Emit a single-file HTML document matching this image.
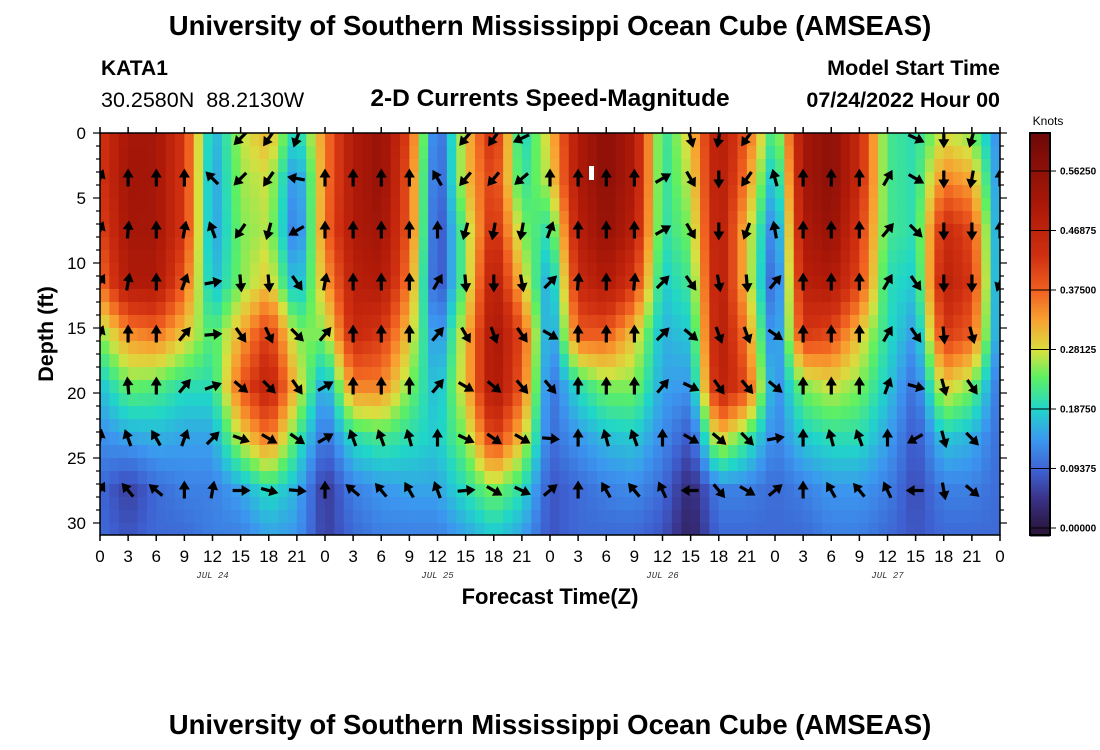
<!DOCTYPE html>
<html><head><meta charset="utf-8"><style>
html,body{margin:0;padding:0;background:#fff;}
svg{display:block;font-family:"Liberation Sans",sans-serif;}
</style></head><body>
<svg id="chart" width="1100" height="750" viewBox="0 0 1100 750">
<defs><clipPath id="plotclip"><rect x="100" y="133" width="900" height="402"/></clipPath></defs>
<text x="550" y="35" text-anchor="middle" font-size="27.5" font-weight="bold">University of Southern Mississippi Ocean Cube (AMSEAS)</text>
<text x="101" y="75" font-size="21" font-weight="bold">KATA1</text>
<text x="101" y="107" font-size="21.5" xml:space="preserve" style="white-space:pre">30.2580N  88.2130W</text>
<text x="550" y="106" text-anchor="middle" font-size="24.5" font-weight="bold">2-D Currents Speed-Magnitude</text>
<text x="1000" y="75" text-anchor="end" font-size="21.5" font-weight="bold">Model Start Time</text>
<text x="1000" y="107" text-anchor="end" font-size="21.5" font-weight="bold">07/24/2022 Hour 00</text>
<g id="heat" clip-path="url(#plotclip)"></g>
<g id="arrows" clip-path="url(#plotclip)"></g>
<rect x="589" y="166" width="5" height="14" fill="#fff"/>
<rect x="100" y="133" width="900" height="402" fill="none" stroke="#000" stroke-width="1.5"/>
<g id="axes"></g>
<text transform="translate(53,334) rotate(-90)" text-anchor="middle" font-size="21.5" font-weight="bold">Depth (ft)</text>
<text x="550" y="604" text-anchor="middle" font-size="22" font-weight="bold">Forecast Time(Z)</text>
<text x="550" y="734" text-anchor="middle" font-size="27.5" font-weight="bold">University of Southern Mississippi Ocean Cube (AMSEAS)</text>
<g id="cbar"></g>
<text x="1048" y="125" text-anchor="middle" font-size="12">Knots</text>
</svg>
<script>
const hours = [0,3,6,9,12,15,18,21,24,27,30,33,36,39,42,45,48,51,54,57,60,63,66,69,72,75,78,81,84,87,90,93,96];
const depths = [0,3.5,7.5,11.5,15.5,19.5,23.5,27.5,31];
const arrowDepths = [0.4,3.5,7.5,11.5,15.5,19.5,23.5,27.5];
// speed (knots) per hour column, values at each depth in `depths`
const speed = [
[0.42,0.42,0.40,0.36,0.25,0.17,0.13,0.10,0.10],
[0.52,0.53,0.52,0.50,0.34,0.24,0.15,0.06,0.08],
[0.52,0.52,0.52,0.50,0.36,0.23,0.16,0.10,0.10],
[0.42,0.42,0.42,0.38,0.30,0.20,0.15,0.12,0.10],
[0.15,0.14,0.14,0.16,0.22,0.20,0.15,0.12,0.12],
[0.27,0.26,0.25,0.25,0.32,0.38,0.28,0.15,0.12],
[0.32,0.28,0.27,0.30,0.42,0.48,0.36,0.20,0.15],
[0.18,0.12,0.10,0.15,0.25,0.30,0.22,0.16,0.14],
[0.35,0.35,0.36,0.32,0.25,0.14,0.10,0.05,0.06],
[0.50,0.50,0.50,0.48,0.45,0.35,0.20,0.12,0.10],
[0.55,0.55,0.53,0.50,0.42,0.35,0.22,0.14,0.12],
[0.40,0.38,0.38,0.35,0.30,0.25,0.20,0.15,0.12],
[0.08,0.07,0.06,0.06,0.12,0.16,0.18,0.15,0.12],
[0.30,0.30,0.25,0.25,0.30,0.30,0.25,0.20,0.15],
[0.45,0.42,0.45,0.50,0.52,0.52,0.42,0.25,0.18],
[0.18,0.20,0.25,0.30,0.40,0.38,0.30,0.20,0.15],
[0.30,0.28,0.20,0.14,0.12,0.10,0.10,0.08,0.08],
[0.50,0.50,0.48,0.45,0.38,0.20,0.14,0.10,0.10],
[0.57,0.57,0.55,0.50,0.38,0.25,0.17,0.12,0.10],
[0.50,0.50,0.48,0.42,0.30,0.25,0.18,0.13,0.10],
[0.20,0.20,0.20,0.18,0.16,0.15,0.13,0.10,0.08],
[0.30,0.28,0.25,0.22,0.18,0.14,0.08,0.03,0.02],
[0.50,0.50,0.50,0.50,0.50,0.48,0.30,0.12,0.10],
[0.38,0.35,0.30,0.30,0.35,0.40,0.22,0.12,0.10],
[0.20,0.15,0.10,0.07,0.10,0.12,0.12,0.10,0.10],
[0.52,0.52,0.50,0.48,0.42,0.25,0.18,0.12,0.10],
[0.57,0.57,0.55,0.50,0.40,0.28,0.20,0.14,0.12],
[0.45,0.45,0.42,0.40,0.30,0.25,0.20,0.14,0.12],
[0.22,0.22,0.22,0.20,0.20,0.18,0.15,0.12,0.10],
[0.20,0.20,0.20,0.18,0.14,0.10,0.08,0.07,0.08],
[0.28,0.35,0.45,0.48,0.42,0.30,0.18,0.12,0.10],
[0.25,0.32,0.40,0.42,0.38,0.25,0.16,0.12,0.10],
[0.12,0.12,0.12,0.12,0.12,0.10,0.10,0.10,0.10]
];
// arrow direction (degrees clockwise from north) per arrow row, per hour column; null = no arrow
const dirTop = [null,null,null,null,null,225,215,200,null,null,null,null,null,220,215,245,null,null,null,null,null,165,190,215,null,null,null,null,null,115,180,195,null];
const dir3 = [20,0,0,0,315,225,215,280,0,0,0,0,330,220,220,230,0,0,0,0,60,150,180,215,345,0,0,0,30,120,180,190,0];
const dir7 = [20,5,0,10,340,215,195,240,0,0,0,0,0,195,190,190,20,0,0,0,60,150,180,200,350,0,0,0,40,135,180,180,0];
const dir11 = [30,10,0,20,80,175,175,145,10,0,0,0,30,175,180,170,45,5,0,5,45,145,170,175,40,0,0,0,30,145,180,180,200];
const dir15 = [20,0,0,40,85,145,155,135,40,0,0,0,40,150,160,145,120,0,0,0,45,130,160,160,125,0,0,0,30,145,175,165,null];
const dir19 = [null,355,0,40,70,130,135,145,60,0,0,0,40,120,130,140,140,0,0,0,40,115,145,140,130,0,0,0,20,105,165,145,null];
const dir23 = [10,340,330,20,45,110,120,125,60,340,340,345,0,115,125,120,95,0,345,340,0,120,130,135,80,0,345,340,0,240,165,135,null];
const dir27 = [30,320,310,0,10,90,105,95,0,310,320,330,340,85,120,115,50,0,330,320,335,270,140,120,50,0,330,320,335,270,170,130,null];
const arrowRows = [dirTop,dir3,dir7,dir11,dir15,dir19,dir23,dir27];
const hourLabels = ["0","3","6","9","12","15","18","21"];
const dayLabels = ["JUL 24","JUL 25","JUL 26","JUL 27"];
const depthTicks = [0,5,10,15,20,25,30];
const cbarTicks = [0,0.09375,0.1875,0.28125,0.375,0.46875,0.5625];
const cbarLabels = ["0.00000","0.09375","0.18750","0.28125","0.37500","0.46875","0.56250"];

const NS="http://www.w3.org/2000/svg";
const X0=100,X1=1000,Y0=133,Y1=535;
const xs = h => X0 + (h/96)*(X1-X0);
const ys = d => Y0 + d*13;
const cs = v => 528 - v/0.09375*59.5;
const stops=[[0,[42,22,62]],[0.05,[58,52,140]],[0.09,[62,95,208]],[0.14,[60,150,240]],[0.19,[32,214,200]],[0.24,[96,240,96]],[0.28,[216,224,64]],[0.33,[248,160,48]],[0.375,[240,96,32]],[0.43,[208,48,16]],[0.5,[176,26,8]],[0.62,[112,8,8]]];
function color(v){
  if(v<=stops[0][0]) return `rgb(${stops[0][1]})`;
  for(let i=1;i<stops.length;i++){
    if(v<=stops[i][0]){const a=stops[i-1],b=stops[i];const t=(v-a[0])/(b[0]-a[0]);
      const c=a[1].map((q,k)=>Math.round(q+(b[1][k]-q)*t));return `rgb(${c})`;}
  }
  return `rgb(${stops[stops.length-1][1]})`;
}
function mk(tag,attrs,parent){const e=document.createElementNS(NS,tag);for(const k in attrs)e.setAttribute(k,attrs[k]);parent.appendChild(e);return e;}
function sample(h,d){
  let i=Math.min(hours.length-2,Math.floor(h/3));let tx=(h-hours[i])/3;
  let j=0;while(j<depths.length-2&&d>depths[j+1])j++;
  let ty=Math.max(0,Math.min(1,(d-depths[j])/(depths[j+1]-depths[j])));
  const a=speed[i][j],b=speed[i+1][j],c=speed[i][j+1],e=speed[i+1][j+1];
  return (a*(1-tx)+b*tx)*(1-ty)+(c*(1-tx)+e*tx)*ty;
}
const heat=document.getElementById('heat');
for(let h=0;h<96;h++){for(let d=0;d<31;d++){
  const r=mk('rect',{x:xs(h).toFixed(2),y:ys(d),width:(xs(h+1)-xs(h)+0.6).toFixed(2),height:13.6,fill:color(sample(h+0.5,d+0.5))},heat);
  
  
}}
const arr=document.getElementById('arrows');
arrowRows.forEach((row,ri)=>{row.forEach((ang,ci)=>{
  if(ang===null)return;
  const g=mk('g',{transform:`translate(${xs(hours[ci]).toFixed(1)},${ys(arrowDepths[ri]).toFixed(1)}) rotate(${ang})`},arr);
  
  
  mk('line',{x1:0,y1:8,x2:0,y2:-3,stroke:'#000','stroke-width':3.2},g);
  mk('polygon',{points:'-5.5,-1 5.5,-1 0,-10',fill:'#000'},g);
});});
const ax=document.getElementById('axes');
for(let h=0;h<=96;h+=3){
  const x=xs(h);
  mk('line',{x1:x,y1:Y0,x2:x,y2:Y0-6,stroke:'#000','stroke-width':1.5},ax);
  mk('line',{x1:x,y1:Y1,x2:x,y2:Y1+6,stroke:'#000','stroke-width':1.5},ax);
  const t=mk('text',{x:x,y:562,'text-anchor':'middle','font-size':17},ax);
  t.textContent=hourLabels[(h/3)%8];
  
  
}
dayLabels.forEach((s,i)=>{
  const t=mk('text',{x:xs(12+24*i),y:578,'text-anchor':'middle','font-size':9,'font-style':'italic','font-family':'Liberation Mono, monospace',fill:'#333'},ax);
  t.textContent=s;
  
  
});
for(let d=0;d<=30;d++){
  const y=ys(d),L=d%5===0?7:4;
  mk('line',{x1:X0,y1:y,x2:X0-L,y2:y,stroke:'#000','stroke-width':1.2},ax);
  mk('line',{x1:X1,y1:y,x2:X1+L,y2:y,stroke:'#000','stroke-width':1.2},ax);
}
depthTicks.forEach(d=>{
  const t=mk('text',{x:86,y:ys(d)+6,'text-anchor':'end','font-size':17},ax);
  t.textContent=String(d);
  
  
});
const cb=document.getElementById('cbar');
for(let y=134;y<535;y+=2){
  mk('rect',{x:1030,y:y,width:20,height:2.5,fill:color((528-y)/59.5*0.09375)},cb);
}
mk('rect',{x:1030,y:133,width:20,height:402,fill:'none',stroke:'#000','stroke-width':2},cb);
cbarTicks.forEach((v,i)=>{
  const y=cs(v);
  mk('line',{x1:1030,y1:y,x2:1056,y2:y,stroke:'#000','stroke-width':1},cb);
  const t=mk('text',{x:1060,y:y+3.5,'font-size':10,'font-weight':'bold'},cb);
  t.textContent=cbarLabels[i];
  
  
});
</script>
</body></html>
